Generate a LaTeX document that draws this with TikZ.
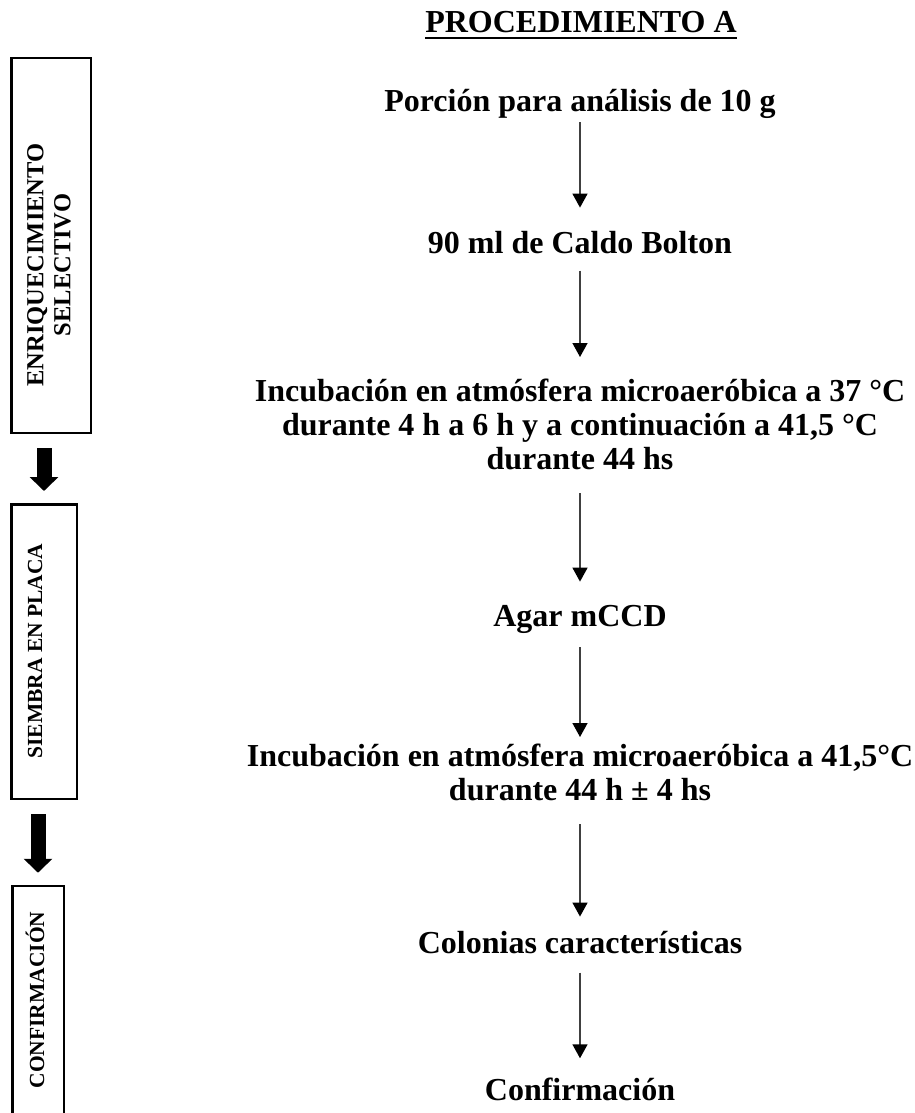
\documentclass[tikz,border=0pt]{standalone}
\usepackage{fontspec}
\setmainfont{Liberation Serif}
\usetikzlibrary{arrows.meta}
\tikzset{
  steptext/.style={font=\bfseries\fontsize{32}{34}\selectfont, inner sep=0pt, align=center},
  stagebox/.style={draw, line width=2.5pt, inner sep=0pt},
  stagelabel/.style={font=\bfseries\fontsize{21.5}{27}\selectfont, rotate=90, align=center, inner sep=0pt},
  flowarrow/.style={draw=black!75, line width=1.5pt, -{Triangle[width=15pt,length=14pt,color=black]}},
  fatarrow/.style={line width=15pt, -{Triangle[width=28pt,length=14pt]}}
}
\begin{document}
\begin{tikzpicture}[x=1pt, y=-1pt]
    \useasboundingbox (0,0) rectangle (915,1113);
    \node[stagebox, minimum width=79.5pt, minimum height=374.5pt] (enrich) at (51,245.5) {};
    \node[stagebox, minimum width=65.5pt, minimum height=294.5pt] (plating) at (44,651.5) {};
    \node[stagebox, minimum width=51.5pt, minimum height=260pt] (confirm) at (38,1016) {};
    \node[stagelabel, font=\bfseries\fontsize{24.5}{27}\selectfont] (enrichlabel) at (49,265) {ENRIQUECIMIENTO\\SELECTIVO};
    \node[stagelabel] (platinglabel) at (35,651) {SIEMBRA EN PLACA};
    \node[stagelabel] (confirmlabel) at (35,1000) {CONFIRMACIÓN};
    \draw[fatarrow, shorten <=14pt, shorten >=12pt] (enrich.south -| plating.north) -- (plating.north);
    \draw[fatarrow, shorten <=14pt, shorten >=12pt] (plating.south -| confirm.north) -- (confirm.north);

    \node[steptext, anchor=base] (title) at (581,33) {PROCEDIMIENTO A};
    \draw[line width=2pt] ([yshift=-5pt]title.base west) -- ([yshift=-5pt]title.base east);
    \node[steptext, anchor=base] (porcion) at (580,112) {Porción para análisis de 10 g};
    \node[steptext, anchor=base] (caldo) at (580,253) {90 ml de Caldo Bolton};
    \node[steptext, anchor=north] (incubA) at (580,379) {Incubación en atmósfera microaeróbica a 37 °C\\durante 4 h a 6 h y a continuación a 41,5 °C\\durante 44 hs};
    \node[steptext, anchor=base] (agar) at (580,626) {Agar mCCD};
    \node[steptext, anchor=north] (incubB) at (580,744) {Incubación en atmósfera microaeróbica a 41,5°C\\durante 44 h ± 4 hs};
    \node[steptext, anchor=base] (colonias) at (580,953) {Colonias características};
    \node[steptext, anchor=base] (confirmacion) at (580,1100) {Confirmación};
    \foreach \src/\dst/\gapa/\gapb in {porcion/caldo/3/23, caldo/incubA/17/22, incubA/agar/23/23,
        agar/incubB/14/7, incubB/colonias/23/14, colonias/confirmacion/19/19}
        \draw[flowarrow, shorten <=\gapa pt, shorten >=\gapb pt] (\src.south) -- (\dst.north);
\end{tikzpicture}
\end{document}
